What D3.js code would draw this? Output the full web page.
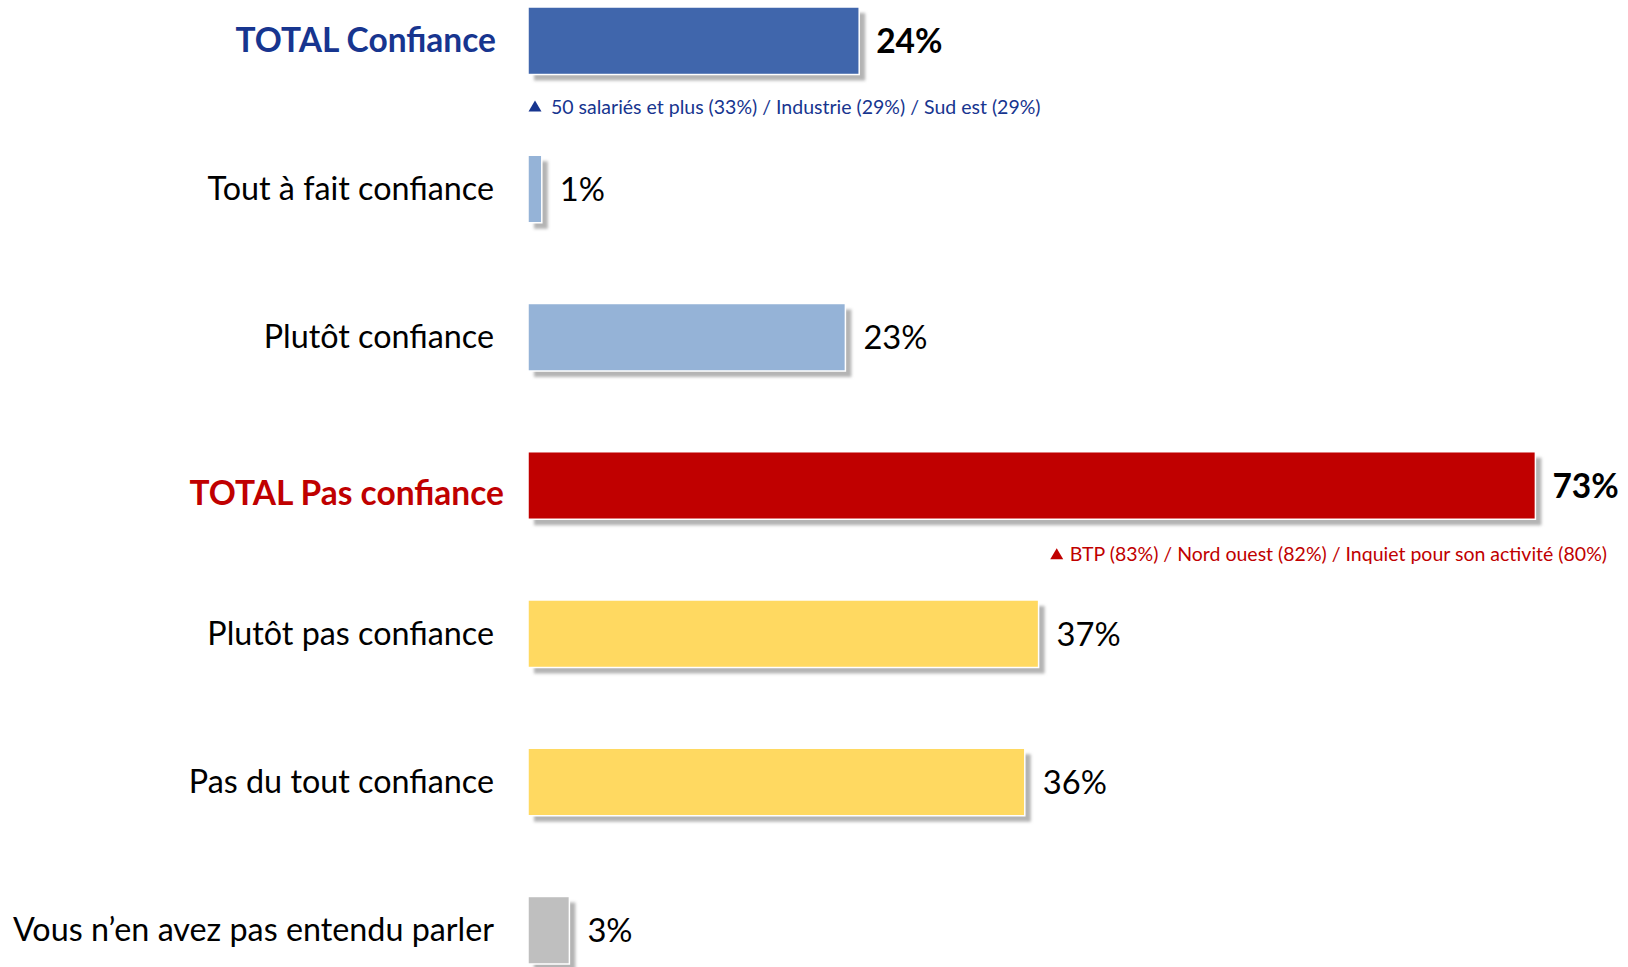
<!DOCTYPE html>
<html><head><meta charset="utf-8">
<script src="https://cdn.jsdelivr.net/npm/d3@7"></script>
<style>body{margin:0;background:#fff;}svg{display:block;}</style>
</head><body>
<svg id="c" width="1628" height="967"></svg>
<script>
const categories = ["TOTAL Confiance","Tout à fait confiance","Plutôt confiance","TOTAL Pas confiance","Plutôt pas confiance","Pas du tout confiance","Vous n\u2019en avez pas entendu parler"];
const values = [24, 1, 23, 73, 37, 36, 3];
const isTotal = [true, false, false, true, false, false, false];
const barColors = ["#4066AC","#95B3D7","#95B3D7","#C00000","#FFD961","#FFD961","#BFBFBF"];
const labelColors = ["#17358F","#000","#000","#C00000","#000","#000","#000"];
const notes = [
  {row: 0, text: "50 salariés et plus (33%) / Industrie (29%) / Sud est (29%)", color: "#17358F", anchor: "start"},
  {row: 3, text: "BTP (83%) / Nord ouest (82%) / Inquiet pour son activité (80%)", color: "#C00000", anchor: "end"}
];

const svg = d3.select("#c");
const font = "Lato, 'Open Sans', sans-serif";
const x = d3.scaleLinear().domain([0, 100]).range([528, 528 + 1380]);
const y = d3.scaleBand().domain(categories).range([7, 964]).paddingInner(0.5445).paddingOuter(0);

const defs = svg.append("defs");
defs.append("filter").attr("id","blur").attr("x","-20%").attr("y","-20%").attr("width","140%").attr("height","140%")
  .append("feGaussianBlur").attr("stdDeviation", 1.7);

const data = categories.map((c,i)=>({c, v: values[i], total: isTotal[i], col: barColors[i], lc: labelColors[i]}));

// shadows
svg.append("g").selectAll("rect").data(data).join("rect")
  .attr("x", d => x(0) + 6).attr("y", d => y(d.c) + 6)
  .attr("width", d => x(d.v) - x(0)).attr("height", y.bandwidth())
  .attr("fill", "#b4b4b4").attr("filter","url(#blur)");

// bars
svg.append("g").selectAll("rect").data(data).join("rect")
  .attr("x", d => x(0)).attr("y", d => y(d.c))
  .attr("width", d => x(d.v) - x(0)).attr("height", y.bandwidth())
  .attr("fill", d => d.col).attr("stroke", "#fff").attr("stroke-width", 1.5);

// category labels
svg.append("g").selectAll("text").data(data).join("text")
  .attr("x", d => d.total ? (d.c === "TOTAL Confiance" ? 496 : 504) : 494)
  .attr("y", d => y(d.c) + y.bandwidth()/2 + (d.c === "TOTAL Pas confiance" ? 19 : 11))
  .attr("text-anchor","end")
  .attr("font-family", font)
  .attr("font-size", d => d.total ? 33.5 : 32.3)
  .attr("font-weight", d => d.total ? "bold" : "normal")
  .attr("fill", d => d.lc)
  .text(d => d.c);

// value labels
svg.append("g").selectAll("text").data(data).join("text")
  .attr("x", d => x(d.v) + (d.total ? 17 : 18))
  .attr("y", d => y(d.c) + y.bandwidth()/2 + 12)
  .attr("font-family", font)
  .attr("font-size", d => d.total ? 33.5 : 32.7)
  .attr("font-weight", d => d.total ? "bold" : "normal")
  .attr("fill", "#000")
  .text(d => d.v + "%");

// notes
const ng = svg.append("g");
notes.forEach(n => {
  const cy = y(categories[n.row]) + y.bandwidth() + (n.row === 0 ? 32 : 35);
  const g = ng.append("g");
  const t = g.append("text")
    .attr("y", cy + 7)
    .attr("font-family", font).attr("font-size", 19.5).attr("fill", n.color)
    .text(n.text);
  let triX;
  if (n.anchor === "start") {
    t.attr("x", 551);
    triX = 535;
  } else {
    t.attr("x", 1607).attr("text-anchor","end");
    const w = t.node().getComputedTextLength();
    triX = 1607 - w - 13;
  }
  g.append("path")
    .attr("d", `M${triX-6.5},${cy+5} L${triX+6.5},${cy+5} L${triX},${cy-6} Z`)
    .attr("fill", n.color);
});
</script>
</body></html>
